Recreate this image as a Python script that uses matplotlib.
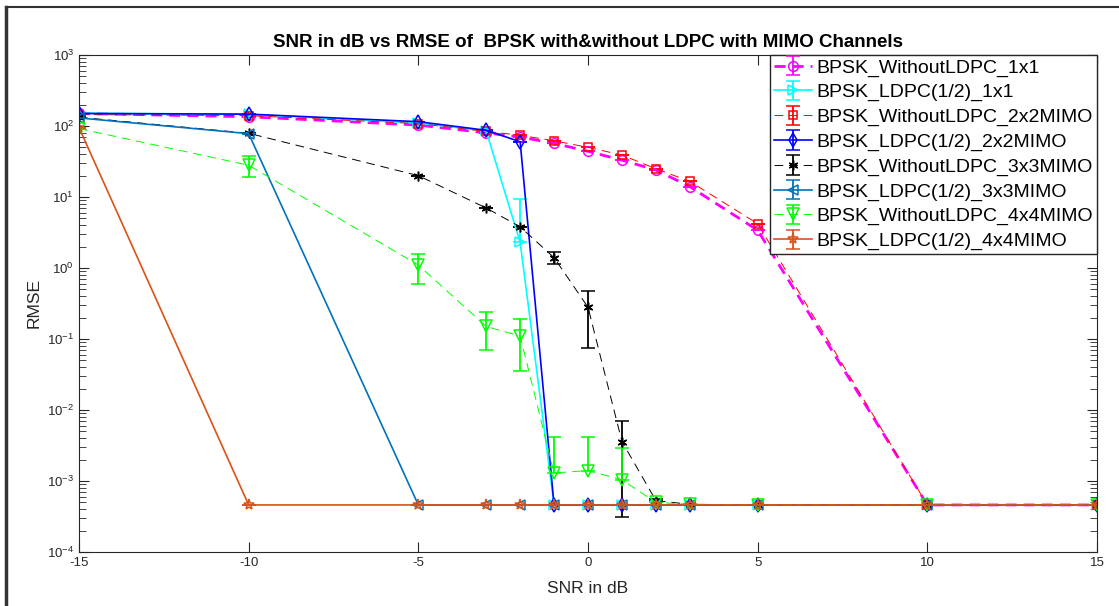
import numpy as np
import matplotlib
matplotlib.use("Agg")
import matplotlib.pyplot as plt
from matplotlib.lines import Line2D

plt.rcParams['font.family'] = ['Liberation Sans', 'DejaVu Sans']
plt.rcParams['mathtext.fontset'] = 'custom'
plt.rcParams['mathtext.rm'] = 'Liberation Sans'
plt.rcParams['mathtext.default'] = 'regular'
plt.rcParams['axes.unicode_minus'] = False

# --- SNR points (dB) ---
snr = [-15, -10, -5, -3, -2, -1, 0, 1, 2, 3, 5, 10, 15]

# --- RMSE per configuration ---
bpsk_1x1 = [150, 135, 103, 80, 70, 57, 44, 33, 24, 14, 3.4, 4.6e-4, 4.6e-4]
ldpc_1x1 = [152, 146, 110, 85, 2.3, 4.6e-4, 4.6e-4, 4.6e-4, 4.6e-4, 4.6e-4, 4.6e-4, 4.6e-4, 4.6e-4]
bpsk_2x2 = [145, 140, 108, 84, 74, 62, 50, 39, 25, 16.6, 4.2, 4.6e-4, 4.6e-4]
ldpc_2x2 = [150, 147, 115, 87, 60, 4.6e-4, 4.6e-4, 4.6e-4, 4.6e-4, 4.6e-4, 4.6e-4, 4.6e-4, 4.6e-4]
bpsk_3x3 = [133, 79, 20, 7.0, 3.8, 1.4, 0.28, 3.6e-3, 5.3e-4, 4.7e-4, 4.6e-4, 4.6e-4, 4.6e-4]
ldpc_3x3 = [130, 78, 4.6e-4, 4.6e-4, 4.6e-4, 4.6e-4, 4.6e-4, 4.6e-4, 4.6e-4, 4.6e-4, 4.6e-4, 4.6e-4, 4.6e-4]
bpsk_4x4 = [92, 28, 1.1, 0.15, 0.11, 1.3e-3, 1.4e-3, 1.04e-3, 5.0e-4, 4.7e-4, 4.6e-4, 4.6e-4, 4.6e-4]
ldpc_4x4 = [95, 4.6e-4, 4.6e-4, 4.6e-4, 4.6e-4, 4.6e-4, 4.6e-4, 4.6e-4, 4.6e-4, 4.6e-4, 4.6e-4, 4.6e-4, 4.6e-4]

# --- error bar limits (None = no bar on that side) ---
ldpc_1x1_hi = [None, None, None, None, 9.5, None, None, None, None, None, None, None, None]
bpsk_3x3_lo = [None, None, None, None, None, 1.15, 0.075, 3.1e-4, None, None, None, None, None]
bpsk_3x3_hi = [None, None, None, None, None, 1.7, 0.47, 7.0e-3, 5.6e-4, None, None, None, None]
bpsk_4x4_lo = [None, 19, 0.6, 0.071, 0.035, None, None, None, None, None, None, None, None]
bpsk_4x4_hi = [None, 38, 1.6, 0.24, 0.19, 4.2e-3, 4.2e-3, 2.9e-3, None, None, None, None, None]

labels = ['BPSK_WithoutLDPC_1x1', 'BPSK_LDPC(1/2)_1x1', 'BPSK_WithoutLDPC_2x2MIMO',
          'BPSK_LDPC(1/2)_2x2MIMO', 'BPSK_WithoutLDPC_3x3MIMO', 'BPSK_LDPC(1/2)_3x3MIMO',
          'BPSK_WithoutLDPC_4x4MIMO', 'BPSK_LDPC(1/2)_4x4MIMO']


def err(y, lo=None, hi=None):
    y = np.array(y, dtype=float)
    lo_e = np.zeros_like(y)
    hi_e = np.zeros_like(y)
    if lo is not None:
        lo_e = np.array([0 if v is None else yy - v for v, yy in zip(lo, y)])
    if hi is not None:
        hi_e = np.array([0 if v is None else v - yy for v, yy in zip(hi, y)])
    return [lo_e, hi_e]


series = [
    (bpsk_1x1, err(bpsk_1x1), dict(color=(1, 0, 1), ls=(0, (4, 2.5)), lw=2.0, marker='o', ms=7)),
    (ldpc_1x1, err(ldpc_1x1, hi=ldpc_1x1_hi), dict(color=(0, 1, 1), ls='-', lw=1.2, marker='>', ms=7)),
    (bpsk_2x2, err(bpsk_2x2), dict(color=(1, 0, 0), ls=(0, (9, 6)), lw=0.7, marker='s', ms=6)),
    (ldpc_2x2, err(ldpc_2x2), dict(color=(0, 0, 1), ls='-', lw=1.2, marker='d', ms=7)),
    (bpsk_3x3, err(bpsk_3x3, bpsk_3x3_lo, bpsk_3x3_hi), dict(color=(0, 0, 0), ls=(0, (9, 6)), lw=0.7, marker=(6, 2, 0), ms=7)),
    (ldpc_3x3, err(ldpc_3x3), dict(color='#0072BD', ls='-', lw=1.2, marker='<', ms=7)),
    (bpsk_4x4, err(bpsk_4x4, bpsk_4x4_lo, bpsk_4x4_hi), dict(color=(0, 1, 0), ls=(0, (9, 6)), lw=0.7, marker='v', ms=8)),
    (ldpc_4x4, err(ldpc_4x4), dict(color='#D95319', ls='-', lw=1.2, marker='*', ms=8)),
]

fig = plt.figure(figsize=(11.19, 6.06), dpi=100)
ax = fig.add_axes([79 / 1119, 54 / 606, 1018 / 1119, 497 / 606])

for (y, e, st), lab in zip(series, labels):
    ax.errorbar(snr, y, yerr=e, color=st['color'], ls=st['ls'], lw=st['lw'],
                marker=st['marker'], ms=st['ms'], mfc='none', mew=1.1,
                capsize=5, elinewidth=1.3, capthick=1.0, label=lab)

ax.set_yscale('log')
ax.set_xlim(-15, 15)
ax.set_ylim(1e-4, 1e3)
ax.set_xticks(range(-15, 16, 5))
ax.tick_params(which='both', direction='in', top=True, right=True, colors='0.15', labelsize=9.5)
ax.tick_params(which='major', length=7)
ax.tick_params(which='minor', length=5)
ax.tick_params(axis='x', which='minor', top=False, bottom=False)
for s in ax.spines.values():
    s.set_color('0.15')

ax.set_title('SNR in dB vs RMSE of  BPSK with&without LDPC with MIMO Channels',
             fontsize=13.5, fontweight='bold', pad=6)
ax.set_xlabel('SNR in dB', fontsize=12.5, color='0.15', labelpad=9)
ax.set_ylabel('RMSE', fontsize=12.5, color='0.15', labelpad=4)

leg = ax.legend(loc='upper right', fontsize=14, borderaxespad=0, fancybox=False,
                framealpha=1, edgecolor='0.15', handlelength=1.95, handletextpad=0.25,
                labelspacing=0.36, borderpad=0.2)
leg.get_frame().set_linewidth(1.0)

# screenshot frame on left and top
fig.add_artist(Line2D([6 / 1119, 6 / 1119], [0, 1 - 7 / 606], color='0.2', lw=2.5))
fig.add_artist(Line2D([6 / 1119, 1], [1 - 7 / 606, 1 - 7 / 606], color='0.2', lw=1.5))

fig.savefig('out.png', dpi=100)
